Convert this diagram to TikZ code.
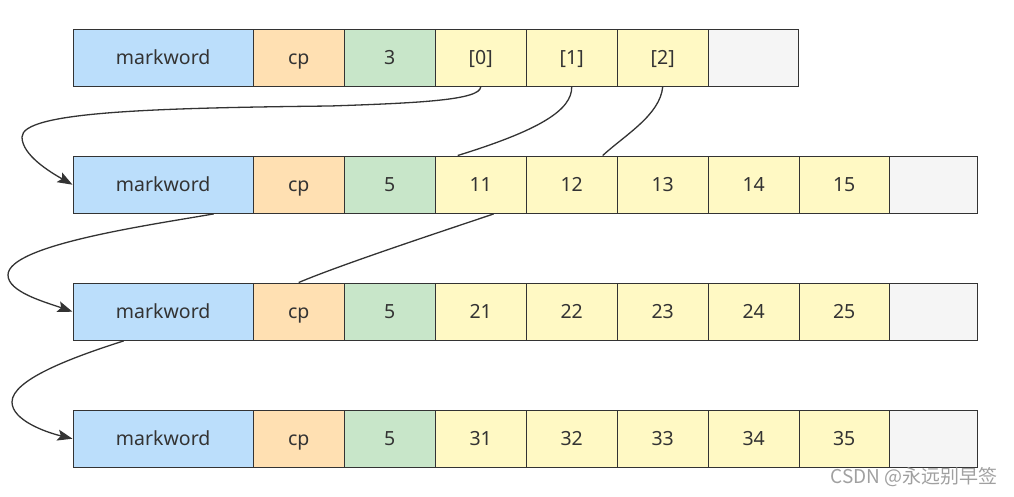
\documentclass[tikz,border=0pt]{standalone}
\usepackage{fontspec}
\setmainfont{Noto Sans}
\newfontfamily\cjk{Noto Sans CJK SC}
\usetikzlibrary{arrows.meta}
\definecolor{cblue}{HTML}{BBDEFB}
\definecolor{corange}{HTML}{FFE0B2}
\definecolor{cgreen}{HTML}{C8E6C9}
\definecolor{cyellow}{HTML}{FFF9C4}
\definecolor{cgray}{HTML}{F5F5F5}
\definecolor{cborder}{HTML}{333333}
\definecolor{ctext}{HTML}{333333}
\definecolor{cline}{HTML}{333333}
\definecolor{cwater}{HTML}{A0A0A0}
\begin{document}
\begin{tikzpicture}[x=1pt,y=-1pt,
  cell/.style={draw=cborder, line width=1.4pt, minimum height=57pt, inner sep=0pt,
    text height=18pt, text depth=4pt,
    anchor=north west, text=ctext, font=\fontsize{19.5}{22}\selectfont},
  wide/.style={cell, minimum width=180pt, fill=cblue},
  narrow/.style={cell, minimum width=91pt},
  link/.style={draw=cline, line width=1.3pt},
  arr/.style={link, -{Stealth[length=15pt, width=11pt, inset=3pt]}}]
\useasboundingbox (0,0) rectangle (1014,496);
% row 1
\node[wide] (a0) at (72.5,28.5) {markword};
\node[narrow, fill=corange] (a1) at (252.5,28.5) {cp};
\node[narrow, fill=cgreen] (a2) at (343.5,28.5) {3};
\node[narrow, fill=cyellow] (a3) at (434.5,28.5) {[0]};
\node[narrow, fill=cyellow] (a4) at (525.5,28.5) {[1]};
\node[narrow, fill=cyellow] (a5) at (616.5,28.5) {[2]};
\node[narrow, fill=cgray, minimum width=90pt] (a6) at (707.5,28.5) {};
% row 2
\node[wide] (b0) at (72.5,155.5) {markword};
\node[narrow, fill=corange] (b1) at (252.5,155.5) {cp};
\node[narrow, fill=cgreen] (b2) at (343.5,155.5) {5};
\node[narrow, fill=cyellow] (b3) at (434.5,155.5) {11};
\node[narrow, fill=cyellow] (b4) at (525.5,155.5) {12};
\node[narrow, fill=cyellow] (b5) at (616.5,155.5) {13};
\node[narrow, fill=cyellow] (b6) at (707.5,155.5) {14};
\node[narrow, fill=cyellow, minimum width=90pt] (b7) at (798.5,155.5) {15};
\node[narrow, fill=cgray, minimum width=88pt] (b8) at (888.5,155.5) {};
% row 3
\node[wide] (c0) at (72.5,282.5) {markword};
\node[narrow, fill=corange] (c1) at (252.5,282.5) {cp};
\node[narrow, fill=cgreen] (c2) at (343.5,282.5) {5};
\node[narrow, fill=cyellow] (c3) at (434.5,282.5) {21};
\node[narrow, fill=cyellow] (c4) at (525.5,282.5) {22};
\node[narrow, fill=cyellow] (c5) at (616.5,282.5) {23};
\node[narrow, fill=cyellow] (c6) at (707.5,282.5) {24};
\node[narrow, fill=cyellow, minimum width=90pt] (c7) at (798.5,282.5) {25};
\node[narrow, fill=cgray, minimum width=88pt] (c8) at (888.5,282.5) {};
% row 4
\node[wide] (d0) at (72.5,409.5) {markword};
\node[narrow, fill=corange] (d1) at (252.5,409.5) {cp};
\node[narrow, fill=cgreen] (d2) at (343.5,409.5) {5};
\node[narrow, fill=cyellow] (d3) at (434.5,409.5) {31};
\node[narrow, fill=cyellow] (d4) at (525.5,409.5) {32};
\node[narrow, fill=cyellow] (d5) at (616.5,409.5) {33};
\node[narrow, fill=cyellow] (d6) at (707.5,409.5) {34};
\node[narrow, fill=cyellow, minimum width=90pt] (d7) at (798.5,409.5) {35};
\node[narrow, fill=cgray, minimum width=88pt] (d8) at (888.5,409.5) {};
% connectors
\draw[arr] (a3.south) .. controls (480,100) and (420,103) .. (330,106)
  .. controls (150,108) and (22,112) .. (22,137)
  .. controls (22,155) and (50,172) .. (b0.west);
\draw[link] (a4.south) .. controls (572,110) and (540,130) .. ([xshift=-23pt]b3.north);
\draw[link] (a5.south) .. controls (660,115) and (625,135) .. ([xshift=31pt]b4.north);
\draw[arr] ([xshift=50.5pt]b0.south) .. controls (150,225) and (8,245) .. (8,275)
  .. controls (8,292) and (45,302) .. (c0.west);
\draw[link] ([xshift=13pt]b3.south) .. controls (440,232) and (340,265) .. (c1.north);
\draw[arr] ([xshift=-39.5pt]c0.south) .. controls (70,358) and (12,380) .. (12,402)
  .. controls (12,420) and (45,432) .. (d0.west);
% watermark
\node[anchor=east, text=cwater, font=\cjk\fontsize{19}{21}\selectfont, inner sep=0pt] (wm) at (998,477) {CSDN @永远别早签};
\end{tikzpicture}
\end{document}
